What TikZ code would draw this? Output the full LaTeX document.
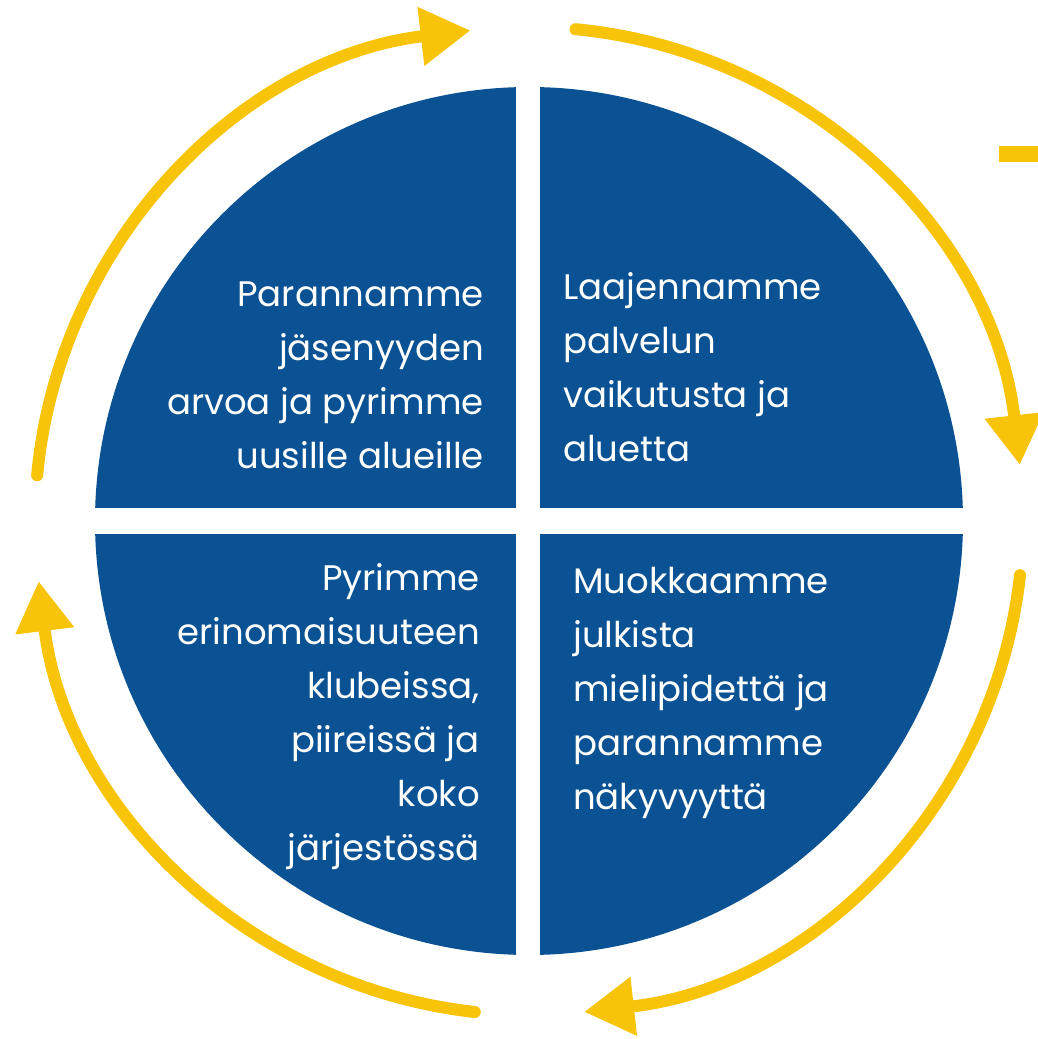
\documentclass[tikz,border=0pt]{standalone}
\usepackage{fontspec}
\setmainfont{Poppins}
\usetikzlibrary{arrows.meta}
\definecolor{lionblue}{RGB}{10,82,148}
\definecolor{lionyellow}{RGB}{247,196,10}
\tikzset{
  cyclearc/.style={lionyellow, line width=12pt, line cap=round, -{Triangle[length=50pt,width=56pt]}},
  goaltext/.style={text=white, inner sep=0pt, font=\fontsize{35.5}{54}\selectfont}
}
\begin{document}
\begin{tikzpicture}[x=1pt,y=1pt]
      \useasboundingbox (0,0) rectangle (1038,1039);
      \coordinate (c) at (529,518);
      \begin{scope}
        \clip (c) circle (434pt);
        \fill [lionblue] (0,531) rectangle (516,1039);
        \fill [lionblue] (540,531) rectangle (1038,1039);
        \fill [lionblue] (0,0) rectangle (516,505);
        \fill [lionblue] (540,0) rectangle (1038,505);
      \end{scope}
      \draw [cyclearc] ([shift={(174.7:494pt)}]c) arc [start angle=174.7, end angle=96.8, radius=494pt];
      \draw [cyclearc] ([shift={(84.6:494pt)}]c) arc [start angle=84.6, end angle=6.5, radius=494pt];
      \draw [cyclearc] ([shift={(-6.3:494pt)}]c) arc [start angle=-6.3, end angle=-83.6, radius=494pt];
      \draw [cyclearc] ([shift={(263.7:494pt)}]c) arc [start angle=263.7, end angle=187, radius=494pt];
      \fill [lionyellow] (999,877) rectangle (1038,893);
      \node [goaltext, align=right, anchor=north east] (value) at (484,757) {Parannamme\\jäsenyyden\\arvoa ja pyrimme\\uusille alueille};
      \node [goaltext, align=left, anchor=north west] (impact) at (563,767) {Laajennamme\\palvelun\\vaikutusta ja\\aluetta};
      \node [goaltext, align=right, anchor=north east] (excellence) at (480,476) {Pyrimme\\erinomaisuuteen\\klubeissa,\\piireissä ja\\koko\\järjestössä};
      \node [goaltext, align=left, anchor=north west] (opinion) at (573,472) {Muokkaamme\\julkista\\mielipidettä ja\\parannamme\\näkyvyyttä};
    \end{tikzpicture}
\end{document}
